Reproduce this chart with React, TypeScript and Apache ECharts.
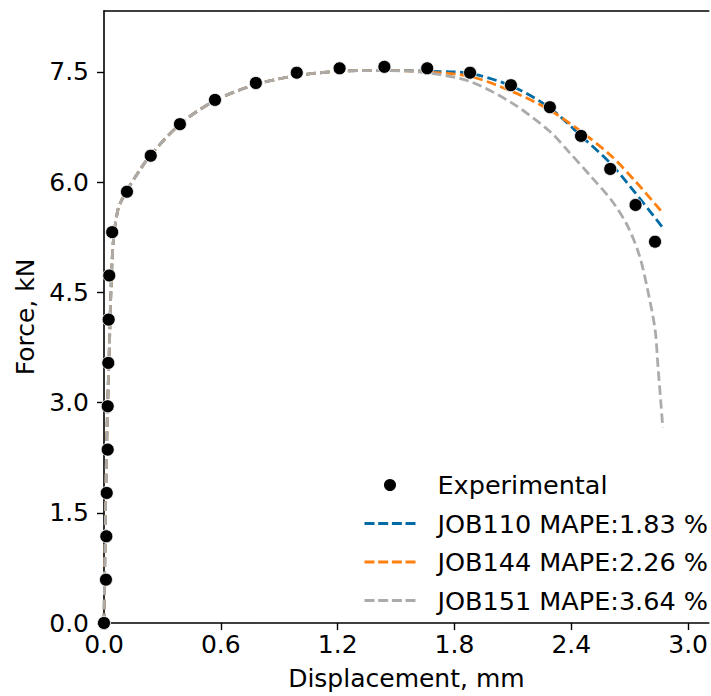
import React, { useEffect, useRef } from "react";
import * as echarts from "echarts";

// Experimental points [displacement mm, force kN]
const expX = [0, 0.01, 0.012, 0.014, 0.019, 0.019, 0.022, 0.024, 0.027, 0.042, 0.118, 0.24, 0.39, 0.57, 0.78, 0.99, 1.21, 1.44, 1.66, 1.88, 2.09, 2.29, 2.45, 2.6, 2.73, 2.83];
const expY = [0, 0.59, 1.18, 1.77, 2.36, 2.95, 3.54, 4.13, 4.73, 5.32, 5.87, 6.36, 6.79, 7.12, 7.35, 7.49, 7.55, 7.57, 7.55, 7.49, 7.32, 7.02, 6.63, 6.18, 5.69, 5.19];

// Shared early part of the simulated curves
const baseX = [0, 0.005, 0.01, 0.017, 0.027, 0.036, 0.048, 0.073, 0.11, 0.18, 0.24, 0.39, 0.57, 0.78, 0.99, 1.21, 1.44];
const baseY = [0, 1.0, 1.9, 2.8, 3.7, 4.55, 5.2, 5.64, 5.85, 6.15, 6.37, 6.79, 7.11, 7.33, 7.45, 7.51, 7.52];

// Tails
const job110X = [1.66, 1.88, 2.1, 2.29, 2.45, 2.6, 2.73, 2.87];
const job110Y = [7.51, 7.48, 7.3, 7.01, 6.63, 6.26, 5.85, 5.38];
const job144X = [1.66, 1.88, 2.1, 2.29, 2.45, 2.6, 2.73, 2.87];
const job144Y = [7.5, 7.44, 7.23, 6.98, 6.69, 6.37, 6.01, 5.58];
const job151X = [1.66, 1.88, 2.1, 2.29, 2.385, 2.5, 2.61, 2.69, 2.75, 2.79, 2.83, 2.845, 2.86, 2.87];
const job151Y = [7.49, 7.37, 7.07, 6.69, 6.42, 6.08, 5.74, 5.4, 5.0, 4.56, 4.0, 3.5, 3.0, 2.66];

const xTicks = [0, 0.6, 1.2, 1.8, 2.4, 3.0];
const yTicks = [0, 1.5, 3.0, 4.5, 6.0, 7.5];

const names = ["Experimental", "JOB110 MAPE:1.83 %", "JOB144 MAPE:2.26 %", "JOB151 MAPE:3.64 %"];
const colors = ["#000000", "#006BA4", "#FF800E", "#ABABAB"];

const zip = (xs: number[], ys: number[]) => xs.map((x, i) => [x, ys[i]]);

// dashed-line legend icon (4 dashes)
const dashIcon = "path://M0,0h10v3h-10z M13.7,0h10v3h-10z M27.4,0h10v3h-10z M41,0h10v3h-10z";

export default function App() {
  const ref = useRef<HTMLDivElement>(null);
  useEffect(() => {
    if (!ref.current) return;
    const chart = echarts.init(ref.current, null, { renderer: "svg" });
    const font = "DejaVu Sans";
    const dash = [9.5, 4.5];
    const lineSeries = (name: string, color: string, xs: number[], ys: number[]) => ({
      name,
      type: "line",
      data: zip(baseX.concat(xs), baseY.concat(ys)),
      showSymbol: false,
      symbol: "none",
      smooth: 0.3,
      lineStyle: { color, width: 2.8, type: dash },
      itemStyle: { color },
      z: 2,
    });
    chart.setOption({
      animation: false,
      textStyle: { fontFamily: font },
      grid: { left: 104, right: 0, top: 11, bottom: 72, containLabel: false },
      legend: {
        orient: "vertical",
        top: 472,
        right: 3,
        padding: 0,
        itemGap: 12.5,
        itemWidth: 51,
        itemHeight: 14,
        data: [
          { name: names[0], icon: "circle" },
          { name: names[1], icon: dashIcon },
          { name: names[2], icon: dashIcon },
          { name: names[3], icon: dashIcon },
        ],
        textStyle: { fontSize: 25.5, fontFamily: font, color: "#000", padding: [0, 0, 0, 17], lineHeight: 25 },
      },
      xAxis: [
        {
          type: "value",
          min: 0,
          max: 3.106,
          name: "Displacement, mm",
          nameLocation: "middle",
          nameGap: 43,
          nameTextStyle: { fontSize: 25, color: "#000", fontFamily: font },
          axisLine: { show: true, lineStyle: { color: "#000", width: 1.6 } },
          axisTick: { show: true, length: 7, customValues: xTicks, lineStyle: { color: "#000", width: 1.4 } },
          axisLabel: {
            customValues: xTicks,
            margin: 9,
            fontSize: 25,
            color: "#000",
            formatter: (v: number) => v.toFixed(1),
          },
          splitLine: { show: false },
        },
        {
          type: "value",
          position: "top",
          min: 0,
          max: 3.106,
          axisLine: { show: true, lineStyle: { color: "#000", width: 1.6 } },
          axisTick: { show: false },
          axisLabel: { show: false },
          splitLine: { show: false },
        },
      ],
      yAxis: {
        type: "value",
        min: 0,
        max: 8.33,
        name: "Force, kN",
        nameLocation: "middle",
        nameGap: 62,
        nameTextStyle: { fontSize: 25, color: "#000", fontFamily: font },
        axisLine: { show: true, lineStyle: { color: "#000", width: 1.6 } },
        axisTick: { show: true, length: 7, customValues: yTicks, lineStyle: { color: "#000", width: 1.4 } },
        axisLabel: {
          customValues: yTicks,
          margin: 15,
          fontSize: 25,
          color: "#000",
          formatter: (v: number) => v.toFixed(1),
        },
        splitLine: { show: false },
      },
      series: [
        lineSeries(names[1], colors[1], job110X, job110Y),
        lineSeries(names[2], colors[2], job144X, job144Y),
        lineSeries(names[3], colors[3], job151X, job151Y),
        {
          name: names[0],
          type: "scatter",
          data: zip(expX, expY),
          symbol: "circle",
          symbolSize: 13,
          itemStyle: { color: "#000", opacity: 1, borderColor: "#fff", borderWidth: 0.8 },
          z: 3,
        },
      ],
    });
    return () => chart.dispose();
  }, []);
  return <div ref={ref} style={{ position: "absolute", left: 0, top: 0, width: 711, height: 696 }} />;
}
